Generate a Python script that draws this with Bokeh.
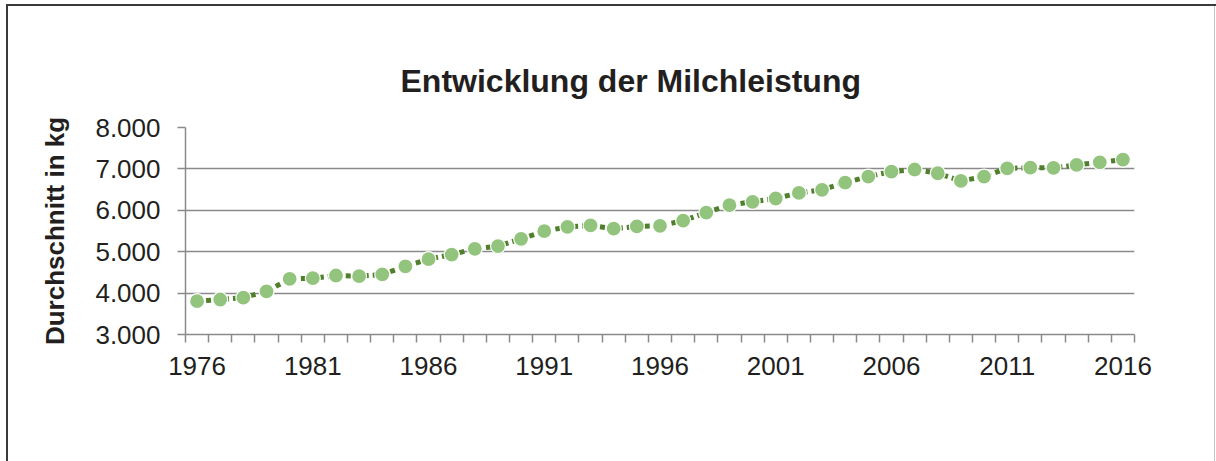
from bokeh.plotting import figure
from bokeh.models import FixedTicker, Range1d
from bokeh.embed import file_html
from bokeh.resources import INLINE

# ---- data ----
years = list(range(1976, 2017))
milk_kg = [3805, 3845, 3890, 4040, 4345, 4360, 4425, 4410, 4450, 4645,
           4820, 4930, 5070, 5135, 5310, 5495, 5600, 5635, 5555, 5610,
           5625, 5750, 5945, 6125, 6205, 6285, 6420, 6495, 6670, 6815,
           6935, 6985, 6895, 6710, 6815, 7015, 7030, 7025, 7095, 7160, 7225]
y_ticks = [3000, 4000, 5000, 6000, 7000, 8000]
y_tick_labels = ["3.000", "4.000", "5.000", "6.000", "7.000", "8.000"]
x_label_years = [1976, 1981, 1986, 1991, 1996, 2001, 2006, 2011, 2016]

title_text = "Entwicklung der Milchleistung"
y_axis_title = "Durchschnitt in kg"

FONT = "Liberation Sans"
GRAY = "#8a8a8a"
TXT = "#231f20"

p = figure(width=1216, height=461, output_backend="svg", toolbar_location=None,
           x_range=Range1d(years[0] - 0.5, years[-1] + 0.5),
           y_range=Range1d(y_ticks[0], y_ticks[-1]),
           min_border_left=185, min_border_right=82,
           min_border_top=127, min_border_bottom=127,
           background_fill_color="white", border_fill_color=None)
p.outline_line_color = None

p.styles = {
    "background": ("linear-gradient(#3a3a3a,#3a3a3a) 6px 4px / 2px 100% no-repeat, "
                   "linear-gradient(#3a3a3a,#3a3a3a) 6px 4px / 100% 2px no-repeat, "
                   "linear-gradient(#c4c4c4,#c4c4c4) 1214px 6px / 1px 100% no-repeat, "
                   "white"),
}

# title
p.title.text = title_text
p.title.text_font = FONT
p.title.text_font_size = "32px"
p.title.text_font_style = "bold"
p.title.text_color = TXT
p.title.align = "left"
p.title.offset = 215
p.title.standoff = 58

# y axis
p.yaxis.ticker = FixedTicker(ticks=y_ticks)
p.yaxis.major_label_overrides = dict(zip(y_ticks, y_tick_labels))
p.yaxis.axis_label = y_axis_title
p.yaxis.axis_label_text_font = FONT
p.yaxis.axis_label_text_font_size = "26px"
p.yaxis.axis_label_text_font_style = "bold"
p.yaxis.axis_label_text_color = TXT
p.yaxis.axis_label_standoff = 22
p.yaxis.major_label_text_font = FONT
p.yaxis.major_label_text_font_size = "26px"
p.yaxis.major_label_text_color = TXT
p.yaxis.major_label_standoff = 17
p.yaxis.axis_line_color = GRAY
p.yaxis.axis_line_width = 1.5
p.yaxis.major_tick_line_color = GRAY
p.yaxis.major_tick_line_width = 1.5
p.yaxis.major_tick_out = 8
p.yaxis.major_tick_in = 0
p.yaxis.minor_tick_line_color = None

# x axis: labels at category centres, ticks at category boundaries
boundaries = [y - 0.5 for y in years] + [years[-1] + 0.5]
p.xaxis.ticker = FixedTicker(ticks=x_label_years, minor_ticks=boundaries)
p.xaxis.major_label_text_font = FONT
p.xaxis.major_label_text_font_size = "26px"
p.xaxis.major_label_text_color = TXT
p.xaxis.major_label_standoff = 14
p.xaxis.axis_line_color = GRAY
p.xaxis.axis_line_width = 1.5
p.xaxis.major_tick_line_color = None
p.xaxis.major_tick_out = 8
p.xaxis.minor_tick_line_color = GRAY
p.xaxis.minor_tick_line_width = 1.5
p.xaxis.minor_tick_out = 8
p.xaxis.minor_tick_in = 0

p.xgrid.grid_line_color = None
p.ygrid.ticker = FixedTicker(ticks=y_ticks)
p.ygrid.grid_line_color = GRAY
p.ygrid.grid_line_width = 1.5

p.line(years, milk_kg, line_color="#4f7f2a", line_width=5, line_dash="5 4")
p.scatter(years, milk_kg, size=15, fill_color="#93c47d", line_color="white", line_width=1.2)

open("out.html", "w").write(file_html(p, INLINE))
